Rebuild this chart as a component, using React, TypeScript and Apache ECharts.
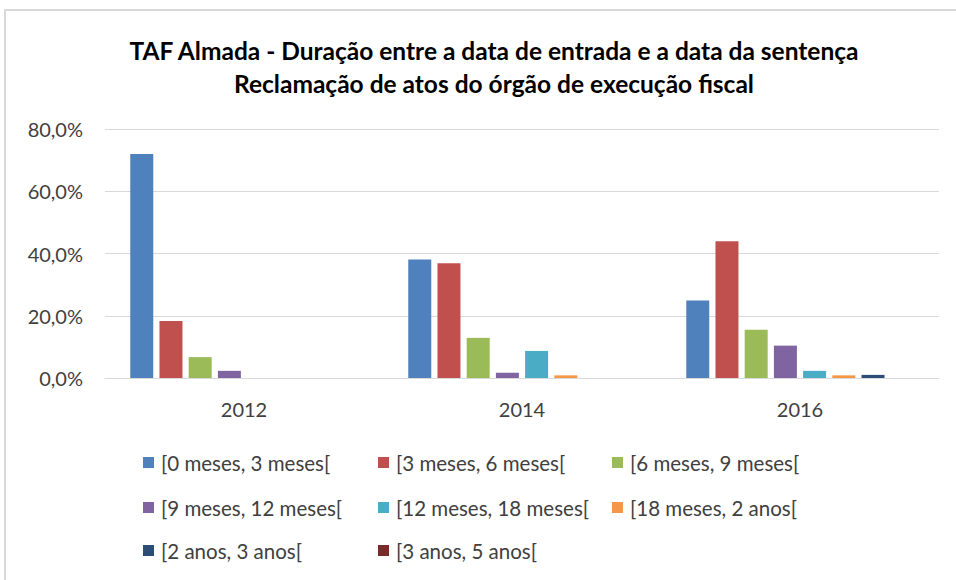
import React, { useEffect, useRef } from "react";
import * as echarts from "echarts";

const titleLines = [
  "TAF Almada - Duração entre a data de entrada e a data da sentença",
  "Reclamação de atos do órgão de execução fiscal",
];
const categories = ["2012", "2014", "2016"];
const seriesNames = [
  "[0 meses, 3 meses[",
  "[3 meses, 6 meses[",
  "[6 meses, 9 meses[",
  "[9 meses, 12 meses[",
  "[12 meses, 18 meses[",
  "[18 meses, 2 anos[",
  "[2 anos, 3 anos[",
  "[3 anos, 5 anos[",
];
const s0_3m = [72.0, 38.1, 24.9];
const s3_6m = [18.3, 36.9, 43.9];
const s6_9m = [6.7, 12.9, 15.5];
const s9_12m = [2.3, 1.7, 10.4];
const s12_18m = [0, 8.7, 2.3];
const s18m_2a = [0, 0.85, 0.85];
const s2_3a = [0, 0, 1.0];
const s3_5a = [0, 0, 0];
const seriesValues = [s0_3m, s3_6m, s6_9m, s9_12m, s12_18m, s18m_2a, s2_3a, s3_5a];
const colors = ["#4F81BD", "#C0504D", "#9BBB59", "#8064A2", "#4BACC6", "#F79646", "#2C4D75", "#772C2A"];
const yTicks = [0, 20, 40, 60, 80];

const FONT = "Lato, 'Open Sans', sans-serif";
const legendPos = [
  [143, 463], [378, 463], [612, 463],
  [143, 508], [378, 508], [612, 508],
  [143, 551], [378, 551],
];

export default function App() {
  const ref = useRef<HTMLDivElement>(null);
  useEffect(() => {
    if (!ref.current) return;
    const chart = echarts.init(ref.current, null, { renderer: "svg" });
    const option: any = {
      animation: false,
      backgroundColor: "#ffffff",
      color: colors,
      textStyle: { fontFamily: FONT },
      graphic: [
        {
          type: "rect",
          shape: { x: 5, y: 10, width: 1000, height: 700 },
          style: { fill: "none", stroke: "#d9d9d9", lineWidth: 2 },
          silent: true,
        },
        ...titleLines.map((t, i) => ({
          type: "text",
          x: 494,
          y: 50 + i * 33,
          style: {
            text: t,
            fontFamily: FONT,
            fontWeight: "bold",
            fontSize: 24.5,
            fill: "#000000",
            textAlign: "center",
            textVerticalAlign: "middle",
          },
        })),
      ],
      legend: seriesNames.map((n, i) => ({
        data: [n],
        left: legendPos[i][0],
        top: legendPos[i][1] - 11,
        padding: 0,
        icon: "rect",
        itemWidth: 11,
        itemHeight: 11,
        selectedMode: false,
        textStyle: { fontFamily: FONT, fontSize: 20.5, color: "#404040", padding: [0, 0, 0, 2] },
      })),
      grid: { left: 105, right: 17, top: 129, bottom: 202, containLabel: false },
      xAxis: {
        type: "category",
        data: categories,
        axisLine: { lineStyle: { color: "#d9d9d9", width: 1 } },
        axisTick: { show: false },
        axisLabel: { fontFamily: FONT, fontSize: 20, color: "#404040", margin: 21 },
      },
      yAxis: {
        type: "value",
        min: yTicks[0],
        max: yTicks[yTicks.length - 1],
        interval: 20,
        axisLine: { show: false },
        axisTick: { show: false },
        splitLine: { lineStyle: { color: "#d9d9d9", width: 1 } },
        axisLabel: {
          fontFamily: FONT,
          fontSize: 20,
          color: "#404040",
          margin: 22,
          formatter: (v: number) => v.toFixed(1).replace(".", ",") + "%",
        },
      },
      series: seriesNames.map((n, i) => ({
        name: n,
        type: "bar",
        data: seriesValues[i],
        barWidth: 23,
        barGap: "27%",
        itemStyle: { color: colors[i] },
      })),
    };
    chart.setOption(option);
    return () => chart.dispose();
  }, []);
  return <div ref={ref} style={{ width: 956, height: 580, position: "absolute", left: 0, top: 0 }} />;
}
